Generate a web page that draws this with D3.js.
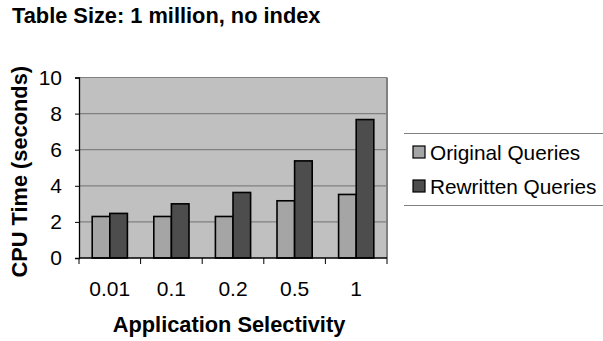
<!DOCTYPE html>
<html>
<head>
<meta charset="utf-8">
<script src="https://cdn.jsdelivr.net/npm/d3@7"></script>
<style>
  html, body { margin: 0; padding: 0; background: #fff; }
  svg { display: block; font-family: "Liberation Sans", Arial, sans-serif; }
</style>
</head>
<body>
<svg id="chart" width="603" height="341"></svg>
<script>
// Selectivity levels on the x axis
const categories = ["0.01", "0.1", "0.2", "0.5", "1"];
// CPU time in seconds for each query set
const originalQueries = [2.3, 2.3, 2.3, 3.17, 3.52];
const rewrittenQueries = [2.47, 3.0, 3.63, 5.38, 7.67];
const seriesNames = ["Original Queries", "Rewritten Queries"];
const yTicks = [0, 2, 4, 6, 8, 10];

const series = [
  { name: seriesNames[0], values: originalQueries, color: "#a5a5a5" },
  { name: seriesNames[1], values: rewrittenQueries, color: "#4d4d4d" }
];

const svg = d3.select("#chart");
const plot = { left: 79, right: 387, top: 77.5, bottom: 258 };

const x0 = d3.scaleBand().domain(categories).range([plot.left, plot.right]).paddingInner(0).paddingOuter(0);
const x1 = d3.scaleBand().domain(seriesNames).range([0, x0.bandwidth()]).paddingInner(0).paddingOuter(0.75);
const y = d3.scaleLinear().domain([0, 10]).range([plot.bottom, plot.top]);

// Title
svg.append("text")
  .attr("x", 12).attr("y", 23)
  .attr("font-size", 21.8).attr("font-weight", "bold")
  .text("Table Size: 1 million, no index");

// Plot area background
svg.append("rect")
  .attr("x", plot.left).attr("y", plot.top)
  .attr("width", plot.right - plot.left).attr("height", plot.bottom - plot.top)
  .attr("fill", "#c0c0c0");

// Gridlines
svg.append("g").selectAll("line")
  .data(yTicks.filter(d => d > 0))
  .join("line")
  .attr("x1", plot.left).attr("x2", plot.right)
  .attr("y1", d => y(d)).attr("y2", d => y(d))
  .attr("stroke", "#808080").attr("stroke-width", 1.2);

// Right edge of the plot frame
svg.append("line")
  .attr("x1", plot.right).attr("x2", plot.right)
  .attr("y1", plot.top).attr("y2", plot.bottom)
  .attr("stroke", "#808080").attr("stroke-width", 2);

// Bars
const groups = svg.append("g").selectAll("g")
  .data(categories)
  .join("g")
  .attr("transform", d => `translate(${x0(d)},0)`);

groups.selectAll("rect")
  .data((c, i) => series.map(s => ({ name: s.name, value: s.values[i], color: s.color })))
  .join("rect")
  .attr("x", d => x1(d.name))
  .attr("width", x1.bandwidth())
  .attr("y", d => y(d.value))
  .attr("height", d => y(0) - y(d.value))
  .attr("fill", d => d.color)
  .attr("stroke", "#000").attr("stroke-width", 1.6);

// Y axis
const yAxis = svg.append("g")
  .attr("transform", `translate(${plot.left},0)`)
  .call(d3.axisLeft(y).tickValues(yTicks).tickSize(4).tickPadding(13).tickFormat(d3.format("d")));
yAxis.select(".domain").attr("stroke", "#000").attr("stroke-width", 1.3);
yAxis.selectAll(".tick line").attr("stroke", "#000");
yAxis.selectAll("text").attr("font-size", 21).attr("fill", "#000")
  .attr("font-family", "Liberation Sans, Arial, sans-serif");

// X axis with ticks on category boundaries
const xAxisG = svg.append("g").attr("transform", `translate(0,${plot.bottom})`);
xAxisG.append("line")
  .attr("x1", plot.left).attr("x2", plot.right)
  .attr("stroke", "#000").attr("stroke-width", 1.5);
const boundaries = categories.map(c => x0(c)).concat([plot.right]);
xAxisG.selectAll("line.tick")
  .data(boundaries)
  .join("line")
  .attr("class", "tick")
  .attr("x1", d => d).attr("x2", d => d)
  .attr("y1", 0).attr("y2", 6)
  .attr("stroke", "#000");
xAxisG.selectAll("text")
  .data(categories)
  .join("text")
  .attr("x", d => x0(d) + x0.bandwidth() / 2)
  .attr("y", 38)
  .attr("text-anchor", "middle")
  .attr("font-size", 21)
  .text(d => d);

// Axis titles
svg.append("text")
  .attr("x", (plot.left + plot.right) / 2 - 4).attr("y", 332)
  .attr("text-anchor", "middle")
  .attr("font-size", 21.8).attr("font-weight", "bold")
  .text("Application Selectivity");

svg.append("text")
  .attr("transform", `translate(27,${(plot.top + plot.bottom) / 2 + 4}) rotate(-90)`)
  .attr("text-anchor", "middle")
  .attr("font-size", 21.8).attr("font-weight", "bold")
  .text("CPU Time (seconds)");

// Legend
const legend = svg.append("g");
legend.append("line").attr("x1", 404).attr("x2", 603).attr("y1", 133.5).attr("y2", 133.5)
  .attr("stroke", "#808080").attr("stroke-width", 1.2);
legend.append("line").attr("x1", 404).attr("x2", 603).attr("y1", 205.5).attr("y2", 205.5)
  .attr("stroke", "#808080").attr("stroke-width", 1.2);
const items = legend.selectAll("g.item")
  .data(series)
  .join("g")
  .attr("class", "item")
  .attr("transform", (d, i) => `translate(413,${152 + i * 34})`);
items.append("rect")
  .attr("x", 0).attr("y", -6).attr("width", 12).attr("height", 12)
  .attr("fill", d => d.color).attr("stroke", "#000").attr("stroke-width", 1.2);
items.append("text")
  .attr("x", 17).attr("y", 7.5)
  .attr("font-size", 20.8)
  .text(d => d.name);
</script>
</body>
</html>
